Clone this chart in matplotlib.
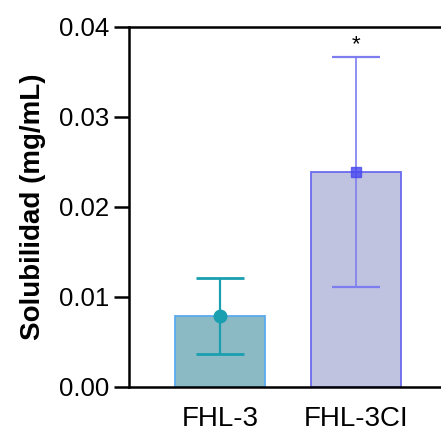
import matplotlib
matplotlib.use("Agg")
import matplotlib.pyplot as plt

categories = ["FHL-3", "FHL-3CI"]
means = [0.0079, 0.0239]
errors = [0.0042, 0.0128]
fill_colors = ["#8bbac4", "#c0c3e0"]
edge_colors = ["#5aaaf0", "#6a6af0"]
err_colors = ["#1a9fb0", "#7d7df0"]
markers = ["o", "s"]
marker_colors = ["#1a9fb0", "#4848f0"]
yticks = [0.00, 0.01, 0.02, 0.03, 0.04]

plt.rcParams['font.family'] = ['Liberation Sans', 'DejaVu Sans']

fig = plt.figure(figsize=(4.41, 4.32), dpi=100)
ax = fig.add_axes([129/441, 1-387/432, 322/441, 360/432])

x = list(range(len(categories)))
for i in x:
    ax.bar(i, means[i], width=0.66, color=fill_colors[i], edgecolor=edge_colors[i], linewidth=1.3, zorder=2)
    ax.errorbar(i, means[i], yerr=errors[i], fmt='none', ecolor=err_colors[i],
                elinewidth=1.6 if i == 0 else 1.2, capsize=17, capthick=2.0 if i == 0 else 1.6, zorder=3)
    ax.plot(i, means[i], marker=markers[i], color=marker_colors[i], markersize=9 if i == 0 else 7,
            alpha=1 if i == 0 else 0.8, zorder=4, linestyle='none')

ax.text(1, means[1] + errors[1] + 0.0002, "*", ha='center', va='bottom', fontsize=16)

ax.set_xlim(-0.67, 1.7)
ax.set_ylim(0, 0.04)
ax.set_yticks(yticks)
ax.set_yticklabels([f"{v:.2f}" for v in yticks], fontsize=18.5)
ax.set_xticks(x)
ax.set_xticklabels(categories, fontsize=20)
ax.tick_params(axis='x', length=0, pad=14)
ax.tick_params(axis='y', length=11, width=1.8, pad=3.5)
ax.set_ylabel("Solubilidad (mg/mL)", fontsize=20, fontweight='bold', labelpad=9)
for s in ['left', 'bottom', 'top']:
    ax.spines[s].set_linewidth(1.8)
ax.spines['right'].set_visible(False)

fig.savefig("out.png", dpi=100)
